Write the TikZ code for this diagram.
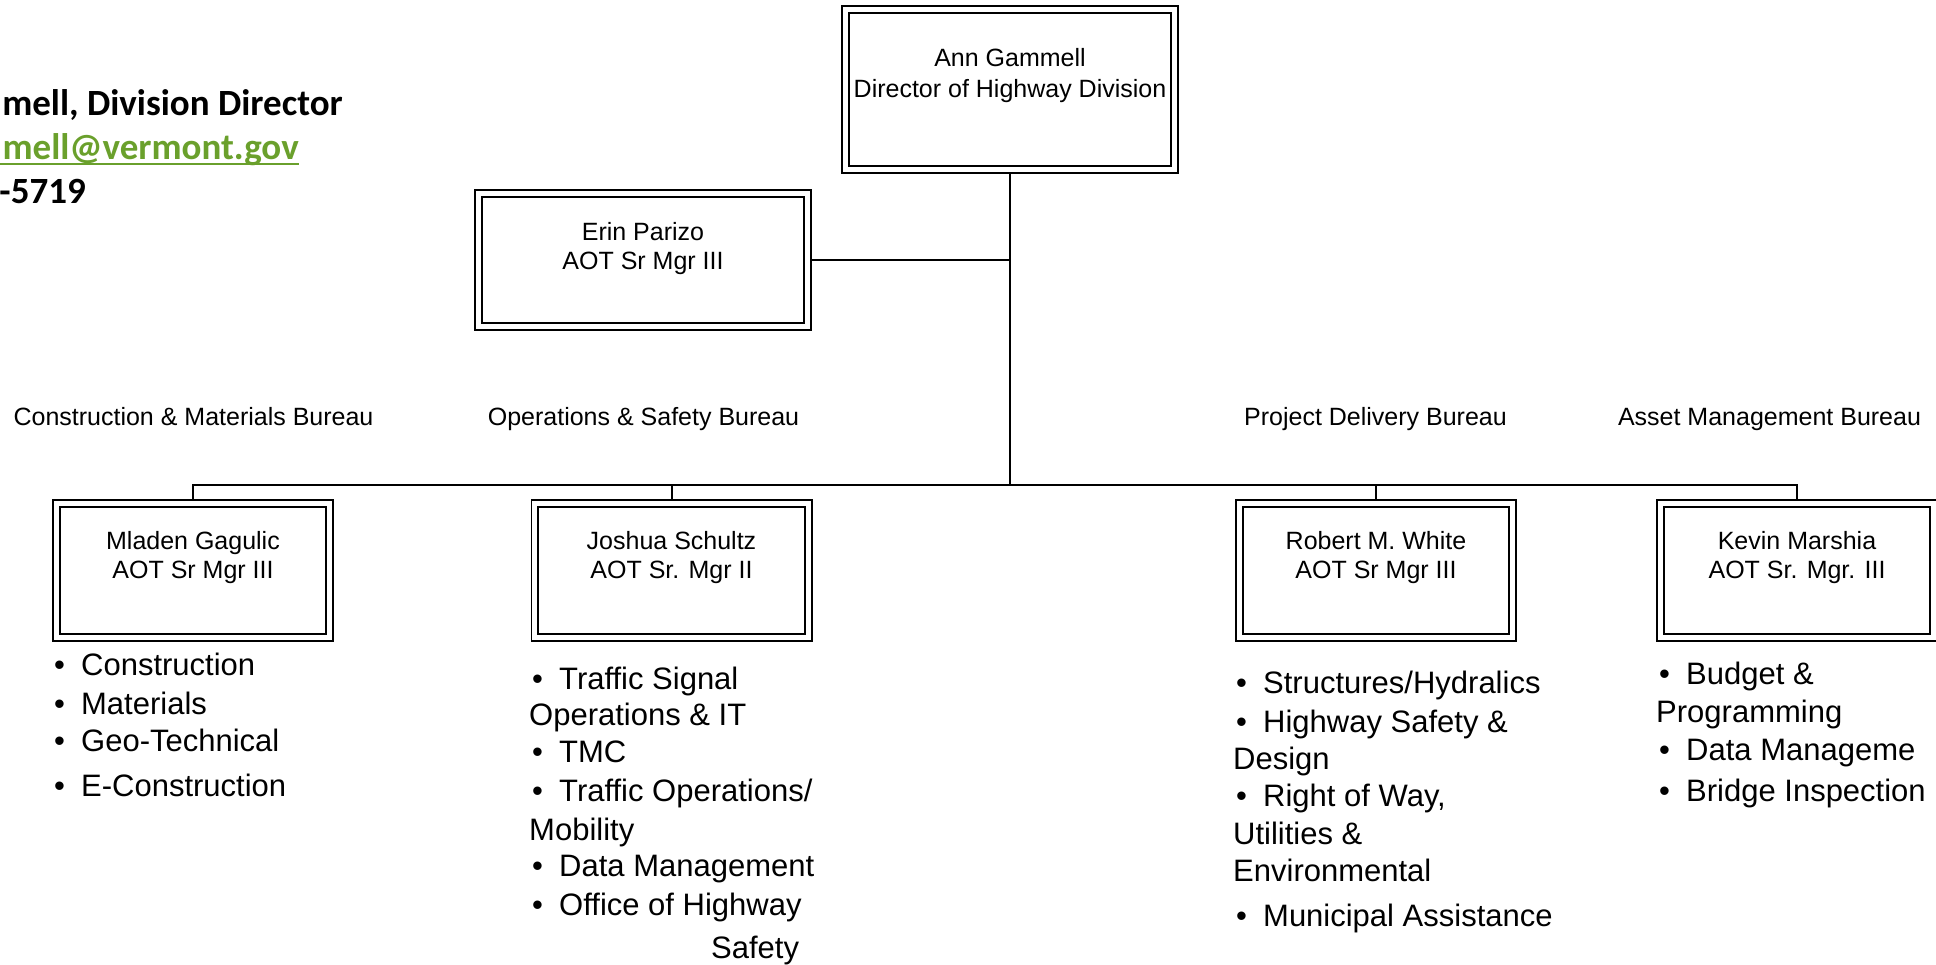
\documentclass[tikz,border=0pt]{standalone}
\usepackage{fontspec}
\setmainfont{Liberation Sans}
\newfontfamily\hdrfont{Carlito}
\definecolor{linkgreen}{RGB}{106,160,44}
\newcommand\bulitem{\makebox[27pt][l]{•}}
\begin{document}
\begin{tikzpicture}[x=1pt,y=-1pt,
  orgbox/.style={draw=black, double=white, double distance=5pt, line width=1.8pt,
    minimum width=273.4pt, minimum height=134.4pt, inner sep=0pt, outer sep=4.3pt},
  nametext/.style={font=\fontsize{25}{29}\selectfont, align=center, anchor=north, inner sep=0pt},
  bureau/.style={font=\fontsize{25}{30}\selectfont, anchor=base, inner sep=0pt},
  listitem/.style={font=\fontsize{31}{36}\selectfont, anchor=base west, inner sep=0pt},
  conn/.style={draw=black, line width=2pt},
  hdr/.style={font=\hdrfont\bfseries\fontsize{37}{42}\selectfont, anchor=base east, inner sep=0pt}
]
\useasboundingbox (0,0) rectangle (1936,964);

% header text (cut at left edge)
\node[hdr] (h1) at (343,115) {mell, Division Director};
\node[hdr, text=linkgreen] (h2) at (299,159) {mell@vermont.gov};
\coordinate (ul) at (0,163.5);
\draw[linkgreen, line width=2pt] (ul) -- (ul -| h2.east);
\node[hdr] (h3) at (86,203) {-5719};

% boxes
\node[orgbox, minimum width=329.4pt, minimum height=160.4pt] (ann) at (1010,89.5) {};
\node[nametext, font=\fontsize{25}{31}\selectfont] (annT) at (1010,48) {Ann Gammell\\Director of Highway Division};

\node[orgbox, minimum width=329.4pt, minimum height=133.4pt] (erin) at (643,260) {};
\node[nametext] (erinT) at (643,222) {Erin Parizo\\AOT Sr Mgr III};

\node[orgbox] (mladen) at (193,570.5) {};
\node[nametext] (mladenT) at (193,531) {Mladen Gagulic\\AOT Sr Mgr III};

\node[orgbox] (joshua) at (671.5,570.5) {};
\node[nametext] (joshuaT) at (671.5,531) {Joshua Schultz\\AOT Sr. Mgr II};

\node[orgbox] (robert) at (1376,570.5) {};
\node[nametext] (robertT) at (1376,531) {Robert M. White\\AOT Sr Mgr III};

\node[orgbox] (kevin) at (1797,570.5) {};
\node[nametext] (kevinT) at (1797,531) {Kevin Marshia\\AOT Sr. Mgr. III};

% connectors
\coordinate (hub) at (1010,485);
\draw[conn] (ann.south) -- (hub);
\draw[conn] (erin.east) -- (erin.east -| ann.south);
\draw[conn] (mladen.north) |- (hub) -| (kevin.north);
\draw[conn] (joshua.north) -- (joshua.north |- hub);
\draw[conn] (robert.north) -- (robert.north |- hub);

% bureau labels
\node[bureau] (b1) at (193.5,425) {Construction \& Materials Bureau};
\node[bureau] (b2) at (643.5,425) {Operations \& Safety Bureau};
\node[bureau] (b3) at (1375.5,425) {Project Delivery Bureau};
\node[bureau] (b4) at (1769.5,425) {Asset Management Bureau};

% Mladen list
\node[listitem] (m1) at (54,675) {\bulitem Construction};
\node[listitem] (m2) at (54,714) {\bulitem Materials};
\node[listitem] (m3) at (54,751) {\bulitem Geo-Technical};
\node[listitem] (m4) at (54,796) {\bulitem E-Construction};

% Joshua list
\node[listitem] (j1) at (532,689) {\bulitem Traffic Signal};
\node[listitem] (j2) at (529,725) {Operations \& IT};
\node[listitem] (j3) at (532,762) {\bulitem TMC};
\node[listitem] (j4) at (532,801) {\bulitem Traffic Operations/};
\node[listitem] (j5) at (529,840) {Mobility};
\node[listitem] (j6) at (532,876) {\bulitem Data Management};
\node[listitem] (j7) at (532,915) {\bulitem Office of Highway};
\node[listitem] (j8) at (711,958) {Safety};

% Robert list
\node[listitem] (r1) at (1236,693) {\bulitem Structures/Hydralics};
\node[listitem] (r2) at (1236,732) {\bulitem Highway Safety \&};
\node[listitem] (r3) at (1233,769) {Design};
\node[listitem] (r4) at (1236,806) {\bulitem Right of Way,};
\node[listitem] (r5) at (1233,844) {Utilities \&};
\node[listitem] (r6) at (1233,881) {Environmental};
\node[listitem] (r7) at (1236,926) {\bulitem Municipal Assistance};

% Kevin list
\node[listitem] (k1) at (1659,684) {\bulitem Budget \&};
\node[listitem] (k2) at (1656,722) {Programming};
\node[listitem] (k3) at (1659,760) {\bulitem Data Manageme};
\node[listitem] (k4) at (1659,801) {\bulitem Bridge Inspection};
\end{tikzpicture}
\end{document}
